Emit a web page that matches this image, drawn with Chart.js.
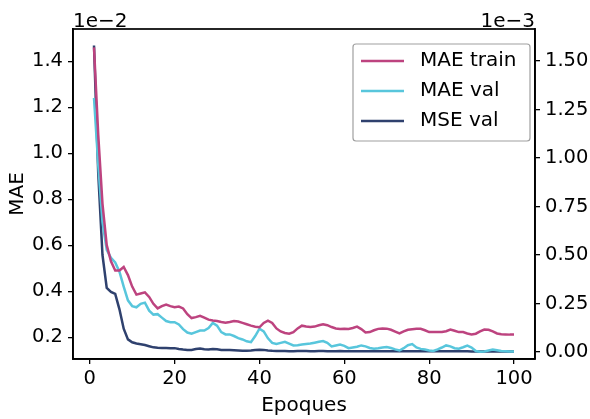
<!DOCTYPE html>
<html>
<head>
<meta charset="utf-8">
<script src="https://cdn.jsdelivr.net/npm/chart.js@4.4.1/dist/chart.umd.min.js"></script>
<style>
  html, body { margin: 0; padding: 0; background: #fff; }
  #wrap { width: 590px; height: 419px; }
</style>
</head>
<body>
<div id="wrap"><canvas id="c" width="590" height="419"></canvas></div>
<script>
// Epochs 1..100
const epochs = Array.from({length: 100}, (_, i) => i + 1);

// MAE train, in units of 1e-2 (left axis)
const maeTrain = [
  1.46, 1.08, 0.78, 0.60, 0.53, 0.49, 0.49, 0.505, 0.47, 0.42,
  0.385, 0.39, 0.395, 0.375, 0.345, 0.325, 0.335, 0.342, 0.335, 0.33,
  0.333, 0.325, 0.30, 0.283, 0.287, 0.293, 0.285, 0.276, 0.272, 0.27,
  0.266, 0.263, 0.266, 0.27, 0.268, 0.262, 0.256, 0.25, 0.245, 0.243,
  0.262, 0.272, 0.262, 0.238, 0.225, 0.218, 0.215, 0.222, 0.238, 0.25,
  0.246, 0.244, 0.246, 0.252, 0.256, 0.252, 0.244, 0.238, 0.236, 0.237,
  0.236, 0.24, 0.246, 0.235, 0.22, 0.222, 0.23, 0.236, 0.238, 0.237,
  0.232, 0.224, 0.216, 0.225, 0.232, 0.234, 0.236, 0.236, 0.23, 0.222,
  0.222, 0.222, 0.222, 0.226, 0.233, 0.228, 0.222, 0.222, 0.216, 0.212,
  0.215, 0.225, 0.233, 0.232, 0.225, 0.216, 0.213, 0.212, 0.211, 0.211
];

// MAE val, in units of 1e-2 (left axis)
const maeVal = [
  1.24, 0.95, 0.70, 0.58, 0.545, 0.525, 0.485, 0.42, 0.36, 0.335,
  0.33, 0.345, 0.35, 0.315, 0.298, 0.30, 0.285, 0.27, 0.265, 0.265,
  0.255, 0.235, 0.22, 0.215, 0.222, 0.229, 0.229, 0.24, 0.262, 0.25,
  0.222, 0.212, 0.212, 0.205, 0.196, 0.19, 0.182, 0.178, 0.205, 0.237,
  0.225, 0.195, 0.175, 0.17, 0.175, 0.18, 0.172, 0.164, 0.165, 0.168,
  0.17, 0.172, 0.176, 0.18, 0.183, 0.175, 0.16, 0.164, 0.168, 0.162,
  0.152, 0.155, 0.158, 0.164, 0.16, 0.153, 0.15, 0.152, 0.155, 0.157,
  0.153, 0.147, 0.142, 0.152, 0.165, 0.17, 0.155, 0.149, 0.146, 0.142,
  0.14, 0.147, 0.155, 0.164, 0.16, 0.152, 0.15, 0.156, 0.163, 0.155,
  0.14, 0.137, 0.138, 0.142, 0.146, 0.143, 0.14, 0.139, 0.138, 0.138
];

// MSE val, in units of 1e-3 (right axis)
const mseVal = [
  1.58, 0.92, 0.50, 0.33, 0.31, 0.30, 0.22, 0.12, 0.065, 0.05,
  0.044, 0.04, 0.036, 0.03, 0.024, 0.022, 0.021, 0.021, 0.02, 0.02,
  0.016, 0.013, 0.011, 0.011, 0.015, 0.018, 0.014, 0.013, 0.016, 0.014,
  0.011, 0.011, 0.01, 0.009, 0.008, 0.007, 0.007, 0.008, 0.01, 0.012,
  0.011, 0.008, 0.006, 0.005, 0.005, 0.005, 0.004, 0.004, 0.005, 0.005,
  0.005, 0.004, 0.004, 0.005, 0.005, 0.004, 0.004, 0.004, 0.005, 0.004,
  0.004, 0.004, 0.004, 0.004, 0.004, 0.004, 0.004, 0.004, 0.004, 0.004,
  0.004, 0.004, 0.004, 0.004, 0.004, 0.004, 0.004, 0.004, 0.004, 0.004,
  0.004, 0.004, 0.004, 0.004, 0.004, 0.004, 0.004, 0.004, 0.004, 0.003,
  0.003, 0.003, 0.003, 0.003, 0.003, 0.003, 0.003, 0.003, 0.003, 0.003
];

const xTicks = [0, 20, 40, 60, 80, 100];
const yLeftTicks = [0.2, 0.4, 0.6, 0.8, 1.0, 1.2, 1.4];
const yRightTicks = [0, 0.25, 0.5, 0.75, 1.0, 1.25, 1.5];
const seriesLabels = ['MAE train', 'MAE val', 'MSE val'];
const seriesColors = ['#bd437f', '#58c6dc', '#2f416e'];
const leftExp = '1e\u22122';
const rightExp = '1e\u22123';

const FONT = 'DejaVu Sans';
const FS = 20;     // titles, legend, offset text
const TFS = 19.5;  // tick labels

const toPts = arr => arr.map((v, i) => ({x: epochs[i], y: v}));

const framePlugin = {
  id: 'frame',
  afterDraw(chart) {
    const {ctx, chartArea: a} = chart;
    ctx.save();
    ctx.strokeStyle = '#000';
    ctx.lineWidth = 1.7;
    ctx.strokeRect(a.left, a.top, a.right - a.left, a.bottom - a.top);
    // offset texts
    ctx.fillStyle = '#000';
    ctx.font = FS + 'px "' + FONT + '"';
    ctx.textBaseline = 'alphabetic';
    ctx.textAlign = 'left';
    ctx.fillText(leftExp, a.left, a.top - 2);
    ctx.textAlign = 'right';
    ctx.fillText(rightExp, a.right, a.top - 2);
    // legend (matplotlib style, upper right)
    const ds = chart.data.datasets;
    const bx = 353, by = 44, bw = 177, bh = 97;
    ctx.fillStyle = 'rgba(255,255,255,0.8)';
    ctx.strokeStyle = '#a0a0a0';
    ctx.lineWidth = 1.2;
    ctx.beginPath();
    if (ctx.roundRect) ctx.roundRect(bx, by, bw, bh, 3); else ctx.rect(bx, by, bw, bh);
    ctx.fill();
    ctx.stroke();
    ds.forEach((d, i) => {
      const yy = by + 17 + i * 30;
      ctx.strokeStyle = d.borderColor;
      ctx.lineWidth = 2.5;
      ctx.beginPath();
      ctx.moveTo(bx + 8, yy);
      ctx.lineTo(bx + 51, yy);
      ctx.stroke();
      ctx.fillStyle = '#000';
      ctx.textAlign = 'left';
      ctx.textBaseline = 'middle';
      ctx.fillText(d.label, bx + 67, yy);
    });
    ctx.restore();
  }
};

new Chart(document.getElementById('c'), {
  type: 'line',
  data: {
    datasets: [
      {label: seriesLabels[0], data: toPts(maeTrain), borderColor: seriesColors[0], yAxisID: 'y'},
      {label: seriesLabels[1], data: toPts(maeVal), borderColor: seriesColors[1], yAxisID: 'y'},
      {label: seriesLabels[2], data: toPts(mseVal), borderColor: seriesColors[2], yAxisID: 'y1'}
    ]
  },
  options: {
    responsive: false,
    animation: false,
    layout: {padding: {top: 29, left: 0, right: 0, bottom: 0}},
    elements: {
      line: {borderWidth: 2.5, tension: 0, fill: false},
      point: {radius: 0}
    },
    plugins: {legend: {display: false}, tooltip: {enabled: false}},
    scales: {
      x: {
        type: 'linear',
        position: 'bottom',
        min: -3.95, max: 104.95,
        afterBuildTicks: s => { s.ticks = xTicks.map(v => ({value: v})); },
        afterFit: s => { s.height = 60; },
        grid: {drawOnChartArea: false, drawTicks: true, tickLength: 5, color: '#000', lineWidth: 1.3},
        border: {display: true, color: '#000', width: 1.7},
        ticks: {color: '#000', font: {family: FONT, size: TFS}, padding: 3, maxRotation: 0,
                callback: v => String(v)},
        title: {display: true, text: 'Epoques', color: '#000', font: {family: FONT, size: FS},
                padding: {top: 0, bottom: 1}}
      },
      y: {
        type: 'linear',
        position: 'left',
        min: 0.105, max: 1.54,
        afterBuildTicks: s => { s.ticks = yLeftTicks.map(v => ({value: v})); },
        afterFit: s => { s.width = 73; },
        grid: {drawOnChartArea: false, drawTicks: true, tickLength: 5, color: '#000', lineWidth: 1.3},
        border: {display: true, color: '#000', width: 1.7},
        ticks: {color: '#000', font: {family: FONT, size: TFS}, padding: 5,
                callback: v => v.toFixed(1)},
        title: {display: true, text: 'MAE', color: '#000', font: {family: FONT, size: FS},
                padding: {top: 6, bottom: 0}}
      },
      y1: {
        type: 'linear',
        position: 'right',
        min: -0.036, max: 1.665,
        afterBuildTicks: s => { s.ticks = yRightTicks.map(v => ({value: v})); },
        afterFit: s => { s.width = 55; },
        grid: {drawOnChartArea: false, drawTicks: true, tickLength: 5, color: '#000', lineWidth: 1.3},
        border: {display: true, color: '#000', width: 1.7},
        ticks: {color: '#000', font: {family: FONT, size: TFS}, padding: 5,
                callback: v => v.toFixed(2)}
      }
    }
  },
  plugins: [framePlugin]
});
</script>
</body>
</html>
